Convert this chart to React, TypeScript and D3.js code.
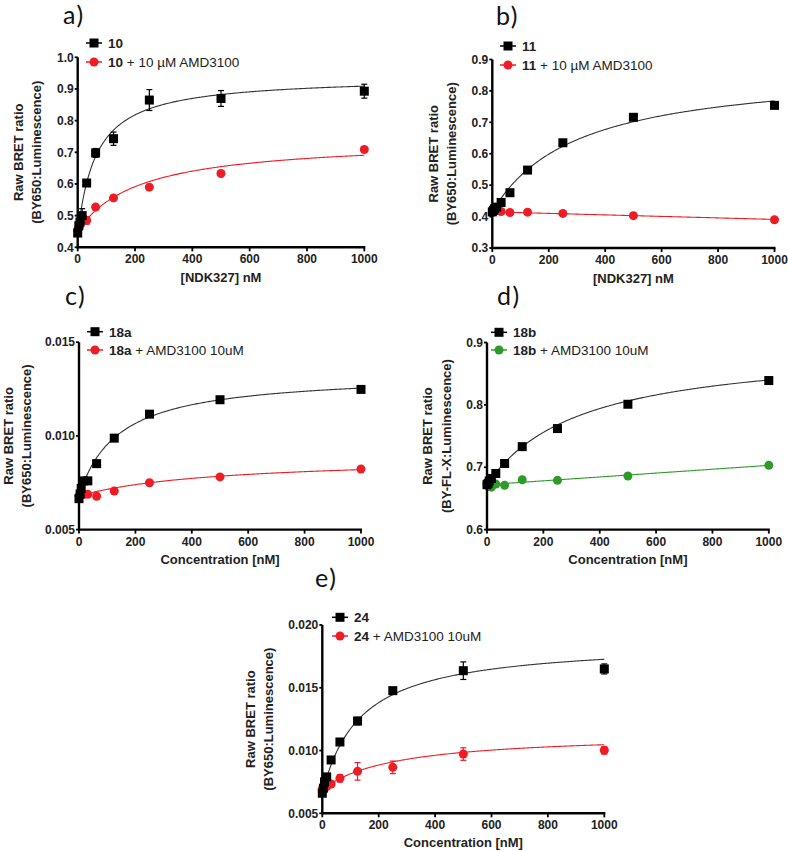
import React from "react";
import * as d3 from "d3";

// ---------- data ----------
const concentrations = [0, 3.9, 7.8, 15.6, 31.25, 62.5, 125, 250, 500, 1000];
const xTickValues = [0, 200, 400, 600, 800, 1000];

// panel a
const a10 = [0.445, 0.468, 0.48, 0.5, 0.603, 0.698, 0.743, 0.865, 0.87, 0.893];
const a10Err = [0.006, 0.008, 0.01, 0.022, 0.008, 0.014, 0.021, 0.033, 0.025, 0.022];
const a10Amd = [0.455, 0.462, 0.47, 0.495, 0.485, 0.527, 0.556, 0.59, 0.633, 0.709];
const a10AmdErr = [0.004, 0.006, 0.008, 0.01, 0.012, 0.006, 0.005, 0.006, 0.005, 0.005];
// panel b
const b11 = [0.415, 0.42, 0.425, 0.43, 0.445, 0.476, 0.548, 0.635, 0.716, 0.754];
const b11Amd = [0.413, 0.415, 0.418, 0.42, 0.416, 0.413, 0.414, 0.41, 0.403, 0.39];
// panel c
const c18a = [0.00665, 0.0069, 0.0072, 0.0076, 0.0076, 0.00852, 0.00988, 0.01116, 0.01193, 0.01248];
const c18aErr = [0.0001, 0.0001, 0.0001, 0.0001, 0.0001, 0.0001, 0.00015, 0.0001, 0.0001, 0.0001];
const c18aAmd = [0.0068, 0.0068, 0.0069, 0.00687, 0.00688, 0.00678, 0.00706, 0.0075, 0.00781, 0.00823];
// panel d
const d18b = [0.672, 0.674, 0.678, 0.682, 0.69, 0.706, 0.733, 0.762, 0.801, 0.839];
const d18bAmd = [0.672, 0.67, 0.669, 0.668, 0.673, 0.671, 0.68, 0.679, 0.686, 0.703];
// panel e
const e24 = [0.0066, 0.007, 0.0075, 0.0079, 0.00925, 0.01068, 0.01235, 0.01477, 0.01636, 0.0165];
const e24Err = [0.0002, 0.0002, 0.0002, 0.0002, 0.0002, 0.0002, 0.0003, 0.0002, 0.0007, 0.0004];
const e24Amd = [0.0069, 0.007, 0.0071, 0.00712, 0.00733, 0.00779, 0.00834, 0.00866, 0.00972, 0.01002];
const e24AmdErr = [0.0002, 0.0002, 0.0002, 0.0002, 0.0002, 0.0003, 0.0007, 0.0005, 0.0005, 0.0003];

// fitted one-site binding parameters: [background, Bmax, Kd, nonspecific slope]
const fitA10 = [0.44, 0.499, 64, 0];
const fitA10Amd = [0.45, 0.292, 213, 0];
const fitB11 = [0.415, 0.459, 300, 0];
const fitB11Amd = [0.415, 0, 1, -0.000024];
const fitC18a = [0.0068, 0.00655, 139, 0];
const fitC18aAmd = [0.0068, 0.0021, 500, 0];
const fitD18b = [0.672, 0.224, 334, 0];
const fitD18bAmd = [0.672, 0, 1, 0.000031];
const fitE24 = [0.0066, 0.01212, 136, 0];
const fitE24Amd = [0.0069, 0.0045, 262, 0];

const yTicksA = [0.4, 0.5, 0.6, 0.7, 0.8, 0.9, 1.0];
const yTicksB = [0.3, 0.4, 0.5, 0.6, 0.7, 0.8, 0.9];
const yTicksC = [0.005, 0.01, 0.015];
const yTicksD = [0.6, 0.7, 0.8, 0.9];
const yTicksE = [0.005, 0.01, 0.015, 0.02];

const RED = "#ee1c24";
const GREEN = "#2f9a2a";
const BLACK = "#000";
const FONT = "Liberation Sans, Arial, sans-serif";

type Series = {
  values: number[];
  err?: number[];
  color: string;
  shape: "square" | "circle";
  fit: number[];
  curveColor: string;
};

type PanelProps = {
  x0: number; x1: number; yTop: number; yBot: number;
  yTicks: number[]; yFmt: string;
  label: string; labelX: number; labelY: number;
  legendX: number; legendY: number[];
  legendBold: string[]; legendRest: string[];
  series: Series[];
  xTitle: string; xTitleY: number; xTickY: number;
  yTitle: string[]; yTitleX: number[];
};

function Marker({ shape, color, cx, cy, size = 9 }: { shape: string; color: string; cx: number; cy: number; size?: number }) {
  if (shape === "square")
    return <rect x={cx - size / 2} y={cy - size / 2} width={size} height={size} fill={color} />;
  return <circle cx={cx} cy={cy} r={size / 2} fill={color} />;
}

function Panel(p: PanelProps) {
  const yDom = [p.yTicks[0], p.yTicks[p.yTicks.length - 1]];
  const x = d3.scaleLinear().domain([0, 1000]).range([p.x0, p.x1]);
  const y = d3.scaleLinear().domain(yDom).range([p.yBot, p.yTop]);
  const fmt = d3.format(p.yFmt);
  const grid = d3.range(0, 1000.01, 4);
  const midY = (p.yTop + p.yBot) / 2;
  const drawOrder = p.series.map((s, i) => ({ s, i })).reverse();
  return (
    <g>
      <text x={p.labelX} y={p.labelY} fontFamily="Lato, Open Sans, sans-serif" fontSize={25} letterSpacing={1.5} fill="#111">{p.label}</text>
      {drawOrder.map(({ s, i }) => {
        const [B, Bmax, Kd, ns] = s.fit;
        const path = d3.line<number>().x((d) => x(d)).y((d) => y(B + (Bmax * d) / (Kd + d) + ns * d))(grid);
        return <path key={"c" + i} d={path || ""} fill="none" stroke={s.curveColor} strokeWidth={1.1} />;
      })}
      {drawOrder.map(({ s, i }) => (
        <g key={"s" + i}>
          {s.err && s.values.map((v, j) => (
            <g key={j} stroke={s.color} strokeWidth={1.2}>
              <line x1={x(concentrations[j])} x2={x(concentrations[j])} y1={y(v - s.err![j])} y2={y(v + s.err![j])} />
              <line x1={x(concentrations[j]) - 3} x2={x(concentrations[j]) + 3} y1={y(v - s.err![j])} y2={y(v - s.err![j])} />
              <line x1={x(concentrations[j]) - 3} x2={x(concentrations[j]) + 3} y1={y(v + s.err![j])} y2={y(v + s.err![j])} />
            </g>
          ))}
          {s.values.map((v, j) => (
            <Marker key={j} shape={s.shape} color={s.color} cx={x(concentrations[j])} cy={y(v)} />
          ))}
        </g>
      ))}
      <line x1={p.x0} x2={p.x0} y1={p.yTop} y2={p.yBot + 1} stroke="#000" strokeWidth={2.4} />
      <line x1={p.x0 - 1} x2={p.x1 + 1} y1={p.yBot} y2={p.yBot} stroke="#000" strokeWidth={2.4} />
      {p.yTicks.map((t) => (
        <g key={"yt" + t}>
          <line x1={p.x0 - 3} x2={p.x0} y1={y(t)} y2={y(t)} stroke="#000" strokeWidth={1.8} />
          <text x={p.x0 - 4} y={y(t)} dy="0.35em" textAnchor="end" fontFamily={FONT} fontWeight="bold" fontSize={12} fill="#222">{fmt(t)}</text>
        </g>
      ))}
      {xTickValues.map((t) => (
        <g key={"xt" + t}>
          <line x1={x(t)} x2={x(t)} y1={p.yBot} y2={p.yBot + 4} stroke="#000" strokeWidth={1.8} />
          <text x={x(t)} y={p.xTickY} dy="0.35em" textAnchor="middle" fontFamily={FONT} fontWeight="bold" fontSize={12} fill="#222">{t}</text>
        </g>
      ))}
      <text x={(p.x0 + p.x1) / 2} y={p.xTitleY} dy="0.35em" textAnchor="middle" fontFamily={FONT} fontWeight="bold" fontSize={13} fill="#222">{p.xTitle}</text>
      {p.yTitle.map((t, i) => (
        <text key={"ytl" + i} transform={`translate(${p.yTitleX[i]},${midY}) rotate(-90)`} dy="0.35em" textAnchor="middle" fontFamily={FONT} fontWeight="bold" fontSize={13} fill="#222">{t}</text>
      ))}
      {p.series.map((s, i) => (
        <g key={"lg" + i}>
          <line x1={p.legendX - 8} x2={p.legendX + 8} y1={p.legendY[i]} y2={p.legendY[i]} stroke={s.color} strokeWidth={1.5} />
          <Marker shape={s.shape} color={s.color} cx={p.legendX} cy={p.legendY[i]} size={9} />
          <text x={p.legendX + 14} y={p.legendY[i]} dy="0.36em" fontFamily={FONT} fontSize={13.5} fill="#222">
            <tspan fontWeight="bold">{p.legendBold[i]}</tspan>
            <tspan>{p.legendRest[i]}</tspan>
          </text>
        </g>
      ))}
    </g>
  );
}

const yTitleStd = ["Raw BRET ratio", "(BY650:Luminescence)"];
const yTitleD = ["Raw BRET ratio", "(BY-FL-X:Luminescence)"];

export default function App() {
  return (
    <svg width={788} height={851} style={{ position: "absolute", left: 0, top: 0, background: "#fff" }}>
      <rect width={788} height={851} fill="#fff" />
      <Panel
        x0={77.7} x1={364.3} yTop={57.3} yBot={247.3} yTicks={yTicksA} yFmt=".1f"
        label="a)" labelX={63} labelY={24}
        legendX={94} legendY={[43, 62]}
        legendBold={["10", "10"]} legendRest={["", " + 10 µM AMD3100"]}
        series={[
          { values: a10, err: a10Err, color: BLACK, shape: "square", fit: fitA10, curveColor: "#333" },
          { values: a10Amd, err: a10AmdErr, color: RED, shape: "circle", fit: fitA10Amd, curveColor: RED },
        ]}
        xTitle="[NDK327] nM" xTitleY={277.5} xTickY={259}
        yTitle={yTitleStd} yTitleX={[18, 36]}
      />
      <Panel
        x0={492.3} x1={774.5} yTop={59.5} yBot={248} yTicks={yTicksB} yFmt=".1f"
        label="b)" labelX={496} labelY={25}
        legendX={508} legendY={[46, 65]}
        legendBold={["11", "11"]} legendRest={["", " + 10 µM AMD3100"]}
        series={[
          { values: b11, color: BLACK, shape: "square", fit: fitB11, curveColor: "#333" },
          { values: b11Amd, color: RED, shape: "circle", fit: fitB11Amd, curveColor: RED },
        ]}
        xTitle="[NDK327] nM" xTitleY={278.5} xTickY={260}
        yTitle={yTitleStd} yTitleX={[433, 451]}
      />
      <Panel
        x0={79} x1={361} yTop={342.2} yBot={529.6} yTicks={yTicksC} yFmt=".3f"
        label="c)" labelX={65} labelY={305}
        legendX={95} legendY={[331.7, 350]}
        legendBold={["18a", "18a"]} legendRest={["", " + AMD3100 10uM"]}
        series={[
          { values: c18a, err: c18aErr, color: BLACK, shape: "square", fit: fitC18a, curveColor: "#333" },
          { values: c18aAmd, color: RED, shape: "circle", fit: fitC18aAmd, curveColor: RED },
        ]}
        xTitle="Concentration [nM]" xTitleY={559} xTickY={541.5}
        yTitle={yTitleStd} yTitleX={[8, 26]}
      />
      <Panel
        x0={487} x1={768.8} yTop={342.5} yBot={529.6} yTicks={yTicksD} yFmt=".1f"
        label="d)" labelX={497} labelY={305}
        legendX={499} legendY={[332.3, 350]}
        legendBold={["18b", "18b"]} legendRest={["", " + AMD3100 10uM"]}
        series={[
          { values: d18b, color: BLACK, shape: "square", fit: fitD18b, curveColor: "#333" },
          { values: d18bAmd, color: GREEN, shape: "circle", fit: fitD18bAmd, curveColor: GREEN },
        ]}
        xTitle="Concentration [nM]" xTitleY={559} xTickY={541.5}
        yTitle={yTitleD} yTitleX={[427, 446]}
      />
      <Panel
        x0={322.3} x1={604.3} yTop={625} yBot={813.3} yTicks={yTicksE} yFmt=".3f"
        label="e)" labelX={315} labelY={587}
        legendX={340} legendY={[617.3, 636]}
        legendBold={["24", "24"]} legendRest={["", " + AMD3100 10uM"]}
        series={[
          { values: e24, err: e24Err, color: BLACK, shape: "square", fit: fitE24, curveColor: "#333" },
          { values: e24Amd, err: e24AmdErr, color: RED, shape: "circle", fit: fitE24Amd, curveColor: RED },
        ]}
        xTitle="Concentration [nM]" xTitleY={842} xTickY={825}
        yTitle={yTitleStd} yTitleX={[250, 268]}
      />
    </svg>
  );
}
